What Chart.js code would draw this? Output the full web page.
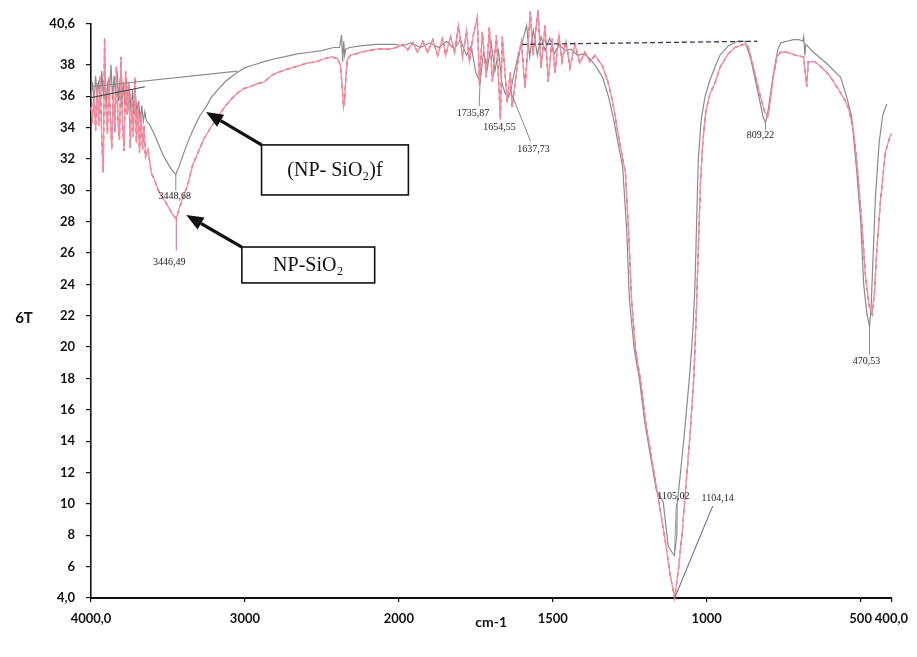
<!DOCTYPE html>
<html><head><meta charset="utf-8">
<script src="https://cdn.jsdelivr.net/npm/chart.js@4.4.1/dist/chart.umd.min.js"></script>
<style>html,body{margin:0;padding:0;background:#fff;}canvas{display:block;}</style>
</head><body>
<canvas id="c" width="917" height="657"></canvas>
<script>
// ---- (NP-SiO2)f : gray spectrum ----
const wnF = [4000,3990,3980,3970,3960,3950,3940,3930,3920,3910,3900,3890,3880,3870,3860,3850,3840,3830,3820,3810,3800,3790,3780,3770,3760,3750,3740,3730,3720,3710,3700,3690,3680,3670,3660,3650,3640,3620,3590,3560,3530,3500,3475,3449,3425,3400,3370,3330,3290,3253,3220,3177,3130,3093,3050,3003,2940,2875,2800,2746,2660,2579,2500,2424,2385,2372,2365,2358,2352,2345,2321,2250,2150,2060,2019,1990,1960,1930,1900,1870,1845,1820,1800,1780,1765,1750,1736,1725,1712,1700,1688,1676,1665,1655,1645,1637,1625,1610,1597,1585,1575,1563,1550,1538,1525,1510,1495,1480,1460,1440,1420,1400,1380,1360,1338,1318,1302,1286,1273,1260,1251,1235,1218,1202,1183,1164,1141,1125,1112,1105,1097,1096,1085,1070,1055,1045,1038,1032,1027,1018,1005,990,970,957,930,900,887,875,856,833,817,809,801,785,769,759,740,717,700,688,685,681,678,653,611,565,546,529,513,500,490,480,471,466,460,452,440,428,415];
const tF  = [36.0,36.9,35.6,37.3,35.9,37.0,35.4,37.6,36.0,37.2,35.5,37.0,36.1,38.0,35.8,37.3,35.9,37.6,35.7,37.2,35.3,36.9,35.4,37.1,35.2,36.6,35.0,36.4,34.8,36.0,34.6,35.7,34.3,35.4,34.4,35.0,34.4,34.2,33.6,32.9,32.2,31.7,31.3,31.0,31.6,32.3,33.1,34.0,34.8,35.3,35.9,36.4,36.9,37.2,37.5,37.8,38.0,38.2,38.4,38.5,38.7,38.8,38.9,39.1,39.1,39.9,38.2,39.5,38.6,39.0,39.1,39.2,39.3,39.3,39.3,39.2,39.4,39.1,39.4,39.1,39.5,39.0,39.6,38.6,39.2,37.5,36.9,38.8,37.8,39.4,37.6,38.9,36.8,36.2,35.9,36.3,37.5,38.8,39.6,40.5,38.5,40.2,38.6,39.8,38.9,39.7,38.7,39.3,38.9,39.0,38.6,38.7,38.4,37.9,37.2,35.9,34.5,32.8,31.5,27.5,23.0,19.8,17.9,15.3,13.1,10.9,10.1,7.3,6.9,6.7,8.0,10.0,12.0,15.0,18.3,21.0,24.0,28.5,32.0,34.5,36.0,37.0,38.0,38.6,39.2,39.5,39.5,39.5,38.3,36.2,34.7,34.3,35.0,37.2,39.0,39.4,39.5,39.6,39.6,39.5,39.8,38.6,39.3,38.8,38.1,37.2,36.0,34.7,31.3,28.1,24.0,22.2,21.3,22.5,25.5,29.5,33.0,34.8,35.5];

// ---- NP-SiO2 : red spectrum ----
const wnNP = [4000,3990,3980,3970,3960,3950,3940,3930,3920,3912,3902,3893,3884,3875,3865,3855,3845,3835,3825,3815,3805,3795,3785,3775,3765,3755,3745,3735,3725,3715,3705,3695,3685,3675,3665,3655,3646,3630,3608,3585,3563,3540,3518,3490,3466,3446,3425,3400,3370,3340,3305,3265,3222,3175,3132,3090,3048,3005,2965,2920,2875,2830,2791,2730,2662,2600,2534,2480,2437,2399,2380,2368,2360,2352,2344,2335,2315,2244,2148,2060,2019,1987,1971,1955,1939,1922,1906,1890,1874,1858,1848,1832,1819,1806,1793,1780,1771,1758,1745,1738,1729,1716,1706,1696,1683,1670,1664,1648,1638,1632,1615,1602,1590,1573,1564,1548,1538,1525,1515,1502,1493,1480,1470,1457,1444,1428,1412,1396,1379,1363,1338,1322,1305,1286,1264,1254,1244,1231,1215,1199,1183,1167,1151,1135,1119,1104,1092,1079,1066,1053,1042,1034,1027,1020,1013,1003,990,974,955,930,909,880,866,850,830,812,802,794,783,772,760,740,710,685,680,675,670,650,636,604,571,550,539,523,510,497,484,472,463,455,448,436,420,405,400];
const tNP = [35.3,34.6,36.2,33.8,36.8,34.1,37.3,33.2,31.1,39.7,35.1,33.6,37.2,34.9,32.6,36.4,33.7,37.9,34.5,33.2,38.5,34.3,32.5,37.6,34.8,36.9,32.7,35.9,33.4,37.2,33.0,35.6,32.4,35.0,32.6,34.1,32.1,32.6,31.1,30.6,30.0,29.6,29.3,28.8,28.4,28.2,28.9,29.6,30.4,31.6,32.4,33.3,34.0,34.7,35.3,35.8,36.2,36.5,36.6,36.8,36.9,37.3,37.5,37.7,37.9,38.1,38.2,38.4,38.5,38.4,38.0,36.6,35.3,35.8,37.2,38.3,38.6,38.8,39.0,39.0,39.1,39.3,38.95,39.4,38.8,39.5,38.8,39.6,38.6,39.7,38.6,39.8,38.8,40.5,38.5,40.2,38.2,39.9,41.0,36.7,40.1,37.2,40.4,36.9,39.9,34.5,39.8,35.6,37.5,35.3,38.0,39.5,36.5,41.4,38.6,41.5,37.8,40.5,36.9,39.7,37.5,39.9,38.2,39.5,37.8,39.3,38.1,38.8,38.2,38.6,37.9,37.0,35.6,33.4,31.1,27.5,23.0,19.8,17.9,15.3,13.4,11.5,9.6,7.7,5.5,4.0,5.8,8.3,11.5,14.7,18.0,22.0,26.5,30.5,33.0,35.0,36.1,36.8,37.9,38.7,39.1,39.3,39.2,38.0,36.3,35.0,34.7,35.6,37.3,38.5,38.8,38.8,38.6,38.5,37.5,36.6,38.2,38.2,38.0,37.4,36.4,35.7,35.2,33.8,31.3,28.1,24.5,22.6,22.1,23.5,26.0,29.2,32.4,33.4,33.6];

// straight baseline segments visible in the picture
const baseAwn = [4000, 3050], baseAt = [36.6, 37.6];
const baseBwn = [4000, 3650], baseBt = [35.9, 36.6];
const baseCwn = [1600, 836],  baseCt = [39.3, 39.5];

// axis ticks
const xTickValues = [4000, 3000, 2000, 1500, 1000, 500, 400];
const xTickLabels = ['4000,0', '3000', '2000', '1500', '1000', '500', '400,0'];
const yTickValues = [4,6,8,10,12,14,16,18,20,22,24,26,28,30,32,34,36,38,40.6];
const yTickLabels = ['4,0','6','8','10','12','14','16','18','20','22','24','26','28','30','32','34','36','38','40,6'];

// peak labels (wavenumber, T, text)
const peakWn   = [3449, 3446, 1736, 1670, 1637, 809, 471, 1105, 1104];
const peakT    = [31.0, 28.2, 36.9, 34.5, 36.3, 34.3, 21.3, 6.7, 4.0];
const peakText = ['3448,68','3446,49','1735,87','1654,55','1637,73','809,22','470,53','1105,02','1104,14'];

// x-axis has a scale change at 2000 cm-1 (half scale above 2000)
const toU = w => (w <= 2000 ? w : 2000 + (w - 2000) / 2);
const pts = (ws, ts) => ws.map((w, i) => ({x: toU(w), y: ts[i]}));

// annotation layout (pixel offsets / styles)
const peakStyle = [
  {dx:-1, dy:22, line:[0,16], lc:'#888'},
  {dx:-7, dy:44, line:[0,32], lc:'#d060a0'},
  {dx:-7, dy:31, line:[-1,24], lc:'#888'},
  {dx:-1, dy:8, line:null},
  {dx:23, dy:58, line:[20,50], lc:'#888'},
  {dx:-5, dy:13, line:[0,7], lc:'#888'},
  {dx:-3, dy:35, line:[0,28], lc:'#888'},
  {dx:-1, dy:-59, line:[2,-52], lc:'#999'},
  {dx:43, dy:-100, line:[38,-92], lc:'#5a5a90'}
];
const boxes = [
  {w1:2892, w2:1969, t1:32.89, t2:29.70, text:'(NP- SiO\u2082)f', aw:3253, at:34.99},
  {w1:3020, w2:2157, t1:26.38, t2:24.09, text:'NP-SiO\u2082', aw:3381, at:28.42}
];

const annot = {
  id: 'annot',
  afterDatasetsDraw(chart) {
    const {ctx, scales: {x, y}, chartArea} = chart;
    const px = w => x.getPixelForValue(toU(w));
    const py = t => y.getPixelForValue(t);
    ctx.save();
    // peak labels
    ctx.textAlign = 'center'; ctx.textBaseline = 'middle';
    ctx.font = '10px "Liberation Serif", "DejaVu Serif", serif';
    peakWn.forEach((w, i) => {
      const X = px(w), Y = py(peakT[i]), s = peakStyle[i];
      if (s.line) {
        ctx.strokeStyle = s.lc; ctx.lineWidth = 1;
        ctx.beginPath(); ctx.moveTo(X, Y); ctx.lineTo(X + s.line[0], Y + s.line[1]); ctx.stroke();
      }
      ctx.fillStyle = '#222';
      ctx.fillText(peakText[i], X + s.dx, Y + s.dy);
    });
    // boxes and arrows
    boxes.forEach(b => {
      const x1 = px(b.w1), x2 = px(b.w2), y1 = py(b.t1), y2 = py(b.t2);
      ctx.fillStyle = '#fff';
      ctx.fillRect(x1, y1, x2 - x1, y2 - y1);
      ctx.strokeStyle = '#111'; ctx.lineWidth = 1.6;
      ctx.strokeRect(x1, y1, x2 - x1, y2 - y1);
      ctx.fillStyle = '#111';
      ctx.font = '20px "Liberation Serif", "DejaVu Serif", serif';
      ctx.fillText(b.text, (x1 + x2) / 2, (y1 + y2) / 2 + 1);
      const tx = px(b.aw), ty = py(b.at);
      const ang = Math.atan2(ty - y1, tx - x1);
      const hl = 17, hw = 7;
      const bx = tx - hl * Math.cos(ang), by = ty - hl * Math.sin(ang);
      ctx.lineWidth = 3.2;
      ctx.beginPath(); ctx.moveTo(x1, y1); ctx.lineTo(bx, by); ctx.stroke();
      ctx.beginPath();
      ctx.moveTo(tx, ty);
      ctx.lineTo(bx + hw * Math.sin(ang), by - hw * Math.cos(ang));
      ctx.lineTo(bx - hw * Math.sin(ang), by + hw * Math.cos(ang));
      ctx.closePath(); ctx.fill();
    });
    // y-axis title (horizontal)
    ctx.font = 'bold 15px Lato, "DejaVu Sans", sans-serif';
    ctx.fillStyle = '#111';
    ctx.fillText('6T', 24, (chartArea.top + chartArea.bottom) / 2 + 7);
    ctx.restore();
  }
};

const tickFont = {family: 'Lato, "DejaVu Sans", sans-serif', size: 13, weight: 'bold'};

new Chart(document.getElementById('c'), {
  type: 'line',
  data: {
    datasets: [
      {data: pts(baseAwn, baseAt), borderColor: '#8a8a8a', borderWidth: 1.2},
      {data: pts(baseBwn, baseBt), borderColor: '#4a4a4a', borderWidth: 1.2},
      {data: pts(baseCwn, baseCt), borderColor: '#3b3550', borderWidth: 1.3, borderDash: [5, 3]},
      {data: pts(wnNP, tNP), borderColor: '#f08ca4', borderWidth: 1.3, clip: false},
      {data: pts(wnNP, tNP), borderColor: '#e3283c', borderWidth: 1.3, borderDash: [4, 4], clip: false},
      {data: pts(wnNP, tNP), borderColor: '#f4cf3c', borderWidth: 1.3, borderDash: [2, 12], borderDashOffset: 5, clip: false},
      {data: pts(wnF, tF), borderColor: '#8a8a8a', borderWidth: 1.2, clip: false}
    ]
  },
  options: {
    responsive: false,
    animation: false,
    layout: {padding: {top: 24, right: 19, left: 0, bottom: 0}},
    elements: {point: {radius: 0}, line: {tension: 0}},
    plugins: {legend: {display: false}, tooltip: {enabled: false}},
    scales: {
      x: {
        type: 'linear', min: 400, max: 3000, reverse: true,
        afterBuildTicks: s => { s.ticks = xTickValues.map(v => ({value: toU(v)})); },
        afterFit: s => { s.height = 59; },
        ticks: {autoSkip: false, maxRotation: 0, padding: 9, color: '#111', font: tickFont,
                callback: (v, i) => xTickLabels[i]},
        grid: {drawOnChartArea: false, drawTicks: true, tickLength: 4, color: '#111', lineWidth: 1.2},
        border: {color: '#111', width: 2},
        title: {display: true, text: 'cm-1', color: '#111',
                font: {family: 'Lato, "DejaVu Sans", sans-serif', size: 14, weight: 'bold'},
                padding: {top: 0, bottom: 26}}
      },
      y: {
        type: 'linear', min: 4, max: 40.6,
        afterBuildTicks: s => { s.ticks = yTickValues.map(v => ({value: v})); },
        afterFit: s => { s.width = 91; },
        ticks: {autoSkip: false, padding: 11, color: '#111', font: tickFont,
                callback: (v, i) => yTickLabels[i]},
        grid: {drawOnChartArea: false, drawTicks: true, tickLength: 5, color: '#111', lineWidth: 1.2},
        border: {color: '#111', width: 1.6}
      }
    }
  },
  plugins: [annot]
});
</script>
</body></html>
